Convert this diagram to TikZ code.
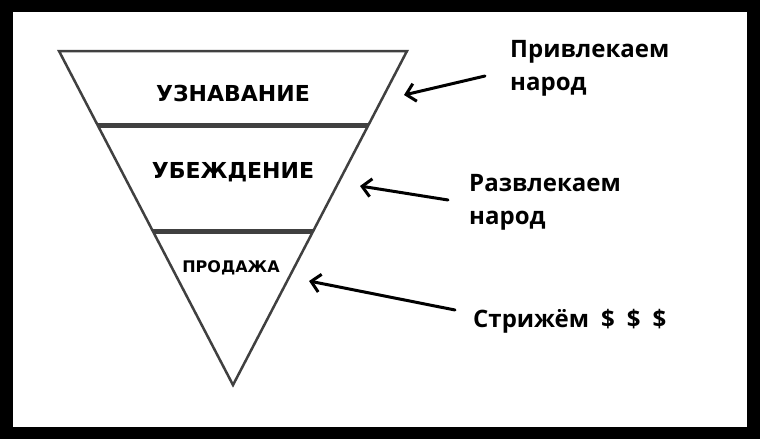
\documentclass[tikz,border=0pt]{standalone}
\usepackage{fontspec}
\setmainfont{Open Sans}
\newfontfamily\stagefont{DejaVu Sans}
\usetikzlibrary{arrows.meta,positioning}
\tikzset{
  funnel/.style={draw=black!75,line width=2.5pt,line join=miter},
  band/.style={draw=black!75,line width=5pt},
  stage/.style={font=\stagefont\bfseries\fontsize{22}{24}\selectfont},
  note/.style={font=\bfseries\fontsize{24}{33}\selectfont,align=left,anchor=north west,inner sep=0pt},
  hand/.style={-{Straight Barb[length=9pt,width=18pt,line width=3pt]},line width=3pt,line cap=round}
}
\newcommand\dollargap{\hspace{12pt}}
\begin{document}
\begin{tikzpicture}[x=1pt,y=-1pt]
  \fill[black] (0,0) rectangle (760,439);
  \fill[white] (13,12) rectangle (747,427);
  % funnel
  \coordinate (TL) at (59,51);
  \coordinate (TR) at (407,51);
  \coordinate (A) at (233,385);
  \draw[funnel] (TL) -- (TR) -- (A) -- cycle;
  \draw[band] (98,125) -- (368,125);
  \draw[band] (153,231) -- (313,231);
  \node[stage] (s1) at (233,93) {УЗНАВАНИЕ};
  \node[stage] (s2) at (233,172) {УБЕЖДЕНИЕ};
  \node[stage,font=\stagefont\bfseries\fontsize{16}{18}\selectfont] (s3) at (231,268) {ПРОДАЖА};
  % notes
  \node[note] (n1) at (510,40) {Привлекаем\\народ};
  \node[note] (n2) at (469,174) {Развлекаем\\народ};
  \node[note] (n3) at (473,309) {Стрижём\dollargap\$\dollargap\$\dollargap\$};
  \coordinate (e1) at (485,76);
  \coordinate (t1) at (404,95);
  \coordinate (e2) at (448,200);
  \coordinate (t2) at (360,186);
  \coordinate (e3) at (455,310);
  \coordinate (t3) at (309,281);
  \draw[hand] (e1) -- (t1);
  \draw[hand] (e2) -- (t2);
  \draw[hand] (e3) -- (t3);
\end{tikzpicture}
\end{document}
